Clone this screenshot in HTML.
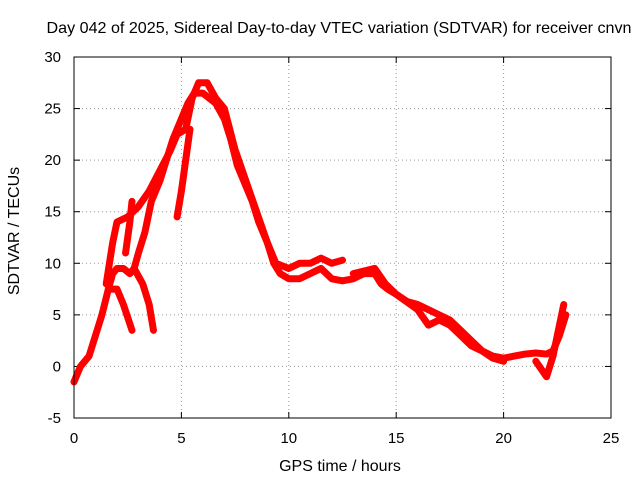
<!DOCTYPE html>
<html><head><meta charset="utf-8"><style>
body{margin:0;background:#fff;}
svg{display:block;font-family:"Liberation Sans",sans-serif;}
</style></head><body>
<svg width="640" height="480">
<text x="339" y="33" font-size="16" text-anchor="middle" textLength="585" lengthAdjust="spacingAndGlyphs">Day 042 of 2025, Sidereal Day-to-day VTEC variation (SDTVAR) for receiver cnvn</text>
<g id="grid"></g>
<g id="axes"></g>
<g id="series"></g>
<rect x="74" y="57" width="537" height="361" fill="none" stroke="#000"/>
<text x="340" y="471" font-size="16" text-anchor="middle">GPS time / hours</text>
<text x="19" y="231" font-size="16" text-anchor="middle" transform="rotate(-90 19 231)">SDTVAR / TECUs</text>
</svg>
<script>
const xTicks=[0,5,10,15,20,25];
const yTicks=[-5,0,5,10,15,20,25,30];
const trackMain=[[0,-1.5],[0.3,0],[0.7,1],[1,3],[1.3,5],[1.6,7.5],[1.8,9],[2,9.5],[2.3,9.5],[2.6,9],[2.8,9.5],[3,11],[3.3,13],[3.6,16],[4,18],[4.3,20],[4.6,22],[5,24],[5.3,25.5],[5.6,26.5],[6,26.5],[6.3,26],[6.6,25.5],[7,24],[7.3,22],[7.6,19.5],[8,17.5],[8.3,16],[8.6,14],[9,12],[9.3,10],[9.6,9],[10,8.5],[10.5,8.5],[11,9],[11.5,9.5],[12,8.5],[12.5,8.3],[13,8.5],[13.5,9],[14,9],[14.3,8],[14.6,7.5],[15,7],[15.5,6.3],[16,6],[16.5,5.5],[17,5],[17.5,4.5],[18,3.5],[18.5,2.5],[19,1.5],[19.5,1],[20,0.8],[20.5,1],[21,1.2],[21.5,1.3],[22,1.2],[22.3,1.5],[22.6,3],[22.9,5]];
const trackUpper=[[1.5,8],[1.8,12],[2,14],[2.5,14.5],[3,15.5],[3.5,17],[4,19],[4.5,21],[4.8,22.5],[5.2,23],[5.5,26],[5.8,27.5],[6.2,27.5],[6.6,26],[7,25],[7.5,21],[8,18],[8.5,15],[9,12],[9.4,10],[10,9.5],[10.5,10],[11,10],[11.5,10.5],[12,10],[12.5,10.3]];
const branchA=[[1.6,7.5],[2,7.5],[2.3,6],[2.7,3.5]];
const branchB=[[2.8,9.5],[3.2,8],[3.5,6],[3.7,3.5]];
const branchC=[[2.4,11],[2.6,14],[2.7,16]];
const branchD=[[4.8,14.5],[5,17],[5.2,20],[5.4,23]];
const tailA=[[13,9],[14,9.5],[14.5,8],[15,7],[16,5.5],[16.5,4],[17,4.5],[17.5,4],[18,3],[18.5,2],[19,1.5],[19.5,0.8],[20,0.5]];
const tailB=[[21.5,0.5],[22,-1],[22.3,1],[22.8,6]];
const tracks=[trackMain,trackUpper,branchA,branchB,branchC,branchD,tailA,tailB];
const NS="http://www.w3.org/2000/svg";
const sx=v=>74+v*537/25, sy=v=>418-(v+5)*361/35;
const grid=document.getElementById('grid'),axes=document.getElementById('axes'),ser=document.getElementById('series');
function mk(t,a,p){const e=document.createElementNS(NS,t);for(const k in a)e.setAttribute(k,a[k]);p.appendChild(e);return e;}
xTicks.forEach(v=>{
 if(v>0&&v<25){const l=mk('line',{x1:sx(v),x2:sx(v),y1:57,y2:418,stroke:'#999','stroke-dasharray':'1,3'},grid);
 }
 const t=mk('text',{x:sx(v),y:443,'font-size':15,'text-anchor':'middle'},axes);t.textContent=v;
 
 mk('line',{x1:sx(v),x2:sx(v),y1:418,y2:412,stroke:'#000'},axes);mk('line',{x1:sx(v),x2:sx(v),y1:57,y2:63,stroke:'#000'},axes);
});
yTicks.forEach(v=>{
 if(v>-5&&v<30){const l=mk('line',{x1:74,x2:611,y1:sy(v),y2:sy(v),stroke:'#999','stroke-dasharray':'1,3'},grid);
 }
 const t=mk('text',{x:61,y:sy(v)+5,'font-size':15,'text-anchor':'end'},axes);t.textContent=v;
 
 mk('line',{x1:74,x2:80,y1:sy(v),y2:sy(v),stroke:'#000'},axes);mk('line',{x1:611,x2:605,y1:sy(v),y2:sy(v),stroke:'#000'},axes);
});
tracks.forEach(tr=>{
 const p=mk('polyline',{points:tr.map(d=>sx(d[0])+','+sy(d[1])).join(' '),fill:'none',stroke:'#f00','stroke-width':7,'stroke-linejoin':'round','stroke-linecap':'round'},ser);
 
});
</script>
</body></html>
